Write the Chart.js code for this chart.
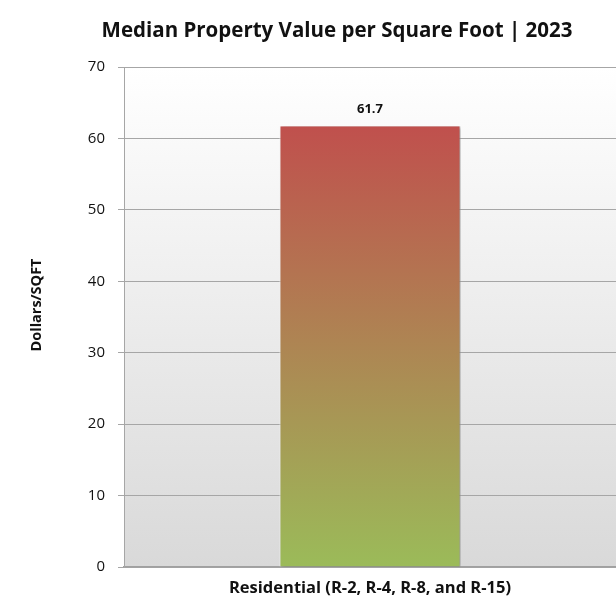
<!DOCTYPE html>
<html>
<head>
<meta charset="utf-8">
<script src="https://cdn.jsdelivr.net/npm/chart.js@4.4.0/dist/chart.umd.min.js"></script>
<style>
  html, body { margin: 0; padding: 0; background: #fff; }
  #wrap { width: 616px; height: 603px; }
</style>
</head>
<body>
<div id="wrap"><canvas id="barChart"></canvas></div>
<script>
const CATEGORIES = ["Residential (R-2, R-4, R-8, and R-15)"];
const VALUES = [61.7];
const Y_MIN = 0, Y_MAX = 70, Y_STEP = 10;
const TITLE = "Median Property Value per Square Foot | 2023";
const Y_TITLE = "Dollars/SQFT";

const FONT = "'Open Sans', Lato, sans-serif";

// plot area background: white fading to light gray
const plotBackground = {
  id: "plotBackground",
  beforeDraw(chart) {
    const { ctx, chartArea: a } = chart;
    const g = ctx.createLinearGradient(0, a.top, 0, a.bottom);
    g.addColorStop(0, "#ffffff");
    g.addColorStop(1, "#d9d9d9");
    ctx.save();
    ctx.fillStyle = g;
    ctx.fillRect(a.left, a.top, a.right - a.left, a.bottom - a.top);
    ctx.restore();
  }
};

// chart title and rotated y axis title
const titles = {
  id: "titles",
  afterDraw(chart) {
    const ctx = chart.ctx;
    ctx.save();
    ctx.fillStyle = "#111";
    ctx.textAlign = "center";
    ctx.textBaseline = "middle";
    ctx.font = "bold 20.5px " + FONT;
    ctx.fillText(TITLE, 337, 31);
    ctx.translate(37, 305);
    ctx.rotate(-Math.PI / 2);
    ctx.font = "bold 14.5px " + FONT;
    ctx.fillText(Y_TITLE, 0, 0);
    ctx.restore();
  }
};

// soft shadow behind the bar
const barShadow = {
  id: "barShadow",
  beforeDatasetsDraw(chart) {
    const ctx = chart.ctx;
    ctx.save();
    ctx.shadowColor = "rgba(0,0,0,0.35)";
    ctx.shadowBlur = 4;
    ctx.shadowOffsetX = 3;
    ctx.shadowOffsetY = 1;
  },
  afterDatasetsDraw(chart) {
    chart.ctx.restore();
  }
};

// value above each bar
const valueLabels = {
  id: "valueLabels",
  afterDatasetsDraw(chart) {
    const ctx = chart.ctx;
    const meta = chart.getDatasetMeta(0);
    ctx.save();
    ctx.font = "bold 13px " + FONT;
    ctx.fillStyle = "#111";
    ctx.textAlign = "center";
    ctx.textBaseline = "middle";
    meta.data.forEach((bar, i) => {
      ctx.fillText(VALUES[i].toFixed(1), bar.x, bar.y - 17);
    });
    ctx.restore();
  }
};

const CHART = document.getElementById("barChart");

let barChart = new Chart(CHART, {
  type: "bar",
  data: {
    labels: CATEGORIES,
    datasets: [{
      data: VALUES,
      backgroundColor: function(context) {
        const a = context.chart.chartArea;
        if (!a) return "#c0504d";
        const y = context.chart.scales.y;
        const g = context.chart.ctx.createLinearGradient(0, y.getPixelForValue(VALUES[0]), 0, y.getPixelForValue(0));
        g.addColorStop(0, "#c0504d");
        g.addColorStop(1, "#9bbb59");
        return g;
      },
      borderColor: "#ffffff",
      borderWidth: { left: 1, right: 1, top: 0, bottom: 0 },
      borderSkipped: false,
      barPercentage: 0.368,
      categoryPercentage: 1.0
    }]
  },
  options: {
    responsive: true,
    maintainAspectRatio: false,
    animation: false,
    layout: { padding: { left: 0, right: 0, top: 67, bottom: 0 } },
    plugins: {
      legend: { display: false },
      tooltip: { enabled: false },
      title: { display: false }
    },
    scales: {
      x: {
        grid: { display: false, drawTicks: false },
        border: { display: true, color: "#a0a0a0", width: 1.5 },
        ticks: {
          color: "#111",
          font: { family: FONT, size: 16.5, weight: "bold" },
          padding: 11
        },
        afterFit: s => { s.height = 36; }
      },
      y: {
        min: Y_MIN,
        max: Y_MAX,
        ticks: {
          stepSize: Y_STEP,
          color: "#111",
          font: { family: FONT, size: 15 },
          padding: 13
        },
        grid: { color: "#a6a6a6", lineWidth: 1, tickLength: 6, drawTicks: true },
        border: { display: true, color: "#a6a6a6", width: 1 },
        afterFit: s => { s.width = 124; }
      }
    }
  },
  plugins: [plotBackground, barShadow, valueLabels, titles]
});
</script>
</body>
</html>
